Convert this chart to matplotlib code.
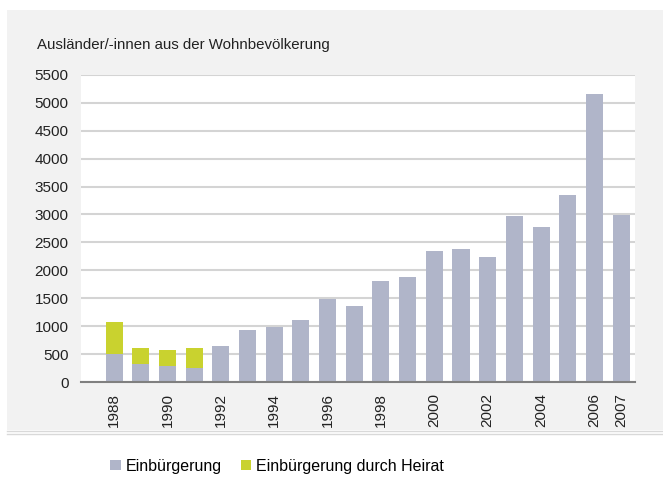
import matplotlib.pyplot as plt
from matplotlib.patches import Rectangle, Patch
from matplotlib.lines import Line2D

plt.rcParams['font.family'] = ['Liberation Sans', 'DejaVu Sans']

# Daten
years = list(range(1988, 2008))
einbuergerung = [509, 330, 294, 258, 652, 939, 986, 1118, 1488, 1369,
                 1800, 1876, 2342, 2378, 2235, 2970, 2778, 3351, 5150, 2987]
heirat = [573, 286, 286, 358, 0, 0, 0, 0, 0, 0,
          0, 0, 0, 0, 0, 0, 0, 0, 0, 0]
tick_years = [1988, 1990, 1992, 1994, 1996, 1998, 2000, 2002, 2004, 2006, 2007]
yticks = list(range(0, 5501, 500))

col_grau = '#b0b5c9'
col_gelb = '#c9d22f'

fig = plt.figure(figsize=(6.63, 5.0), dpi=100)
fig.patch.set_facecolor('white')

# grauer Hintergrund
fig.patches.append(Rectangle((7 / 663, 70 / 500), 656 / 663, 420 / 500,
                             transform=fig.transFigure, facecolor='#f2f2f2',
                             edgecolor='none', zorder=-10))
for yy in [431, 434]:
    fig.lines.append(Line2D([7 / 663, 1], [1 - yy / 500, 1 - yy / 500],
                            transform=fig.transFigure, color='#d9d9d9', lw=1))

ax = fig.add_axes([81 / 663, 118 / 500, 554 / 663, 307.2 / 500])
ax.set_facecolor('white')

x = list(range(len(years)))
ax.bar(x, einbuergerung, width=0.64, color=col_grau, zorder=3)
ax.bar(x, heirat, width=0.64, bottom=einbuergerung, color=col_gelb, zorder=3)

ax.set_ylim(0, 5500)
ax.set_xlim(-1.24, 19.52)
ax.set_yticks(yticks)
ax.set_xticks([years.index(y) for y in tick_years])
ax.set_xticklabels([str(y) for y in tick_years], rotation=90)
ax.tick_params(axis='both', length=0, labelsize=11, colors='#222222')
ax.tick_params(axis='y', pad=9)
ax.tick_params(axis='x', pad=8)
ax.yaxis.grid(True, color='#d4d4d4', lw=1.5, zorder=0)
for s in ['left', 'right', 'top']:
    ax.spines[s].set_visible(False)
ax.spines['bottom'].set_color('#808080')
ax.spines['bottom'].set_linewidth(1.5)
ax.spines['bottom'].set_zorder(4)

fig.text(37 / 663, 1 - 45 / 500, 'Ausländer/-innen aus der Wohnbevölkerung',
         fontsize=10.8, color='#222222', va='center', ha='left')

handles = [Patch(facecolor=col_grau, label='Einbürgerung'),
           Patch(facecolor=col_gelb, label='Einbürgerung durch Heirat')]
fig.legend(handles=handles, loc='center', bbox_to_anchor=(277 / 663, 1 - 466 / 500),
           ncol=2, frameon=False, fontsize=11.5, handlelength=0.65, handleheight=0.65,
           handletextpad=0.3, columnspacing=1.2)

plt.savefig('out.png', dpi=100)
